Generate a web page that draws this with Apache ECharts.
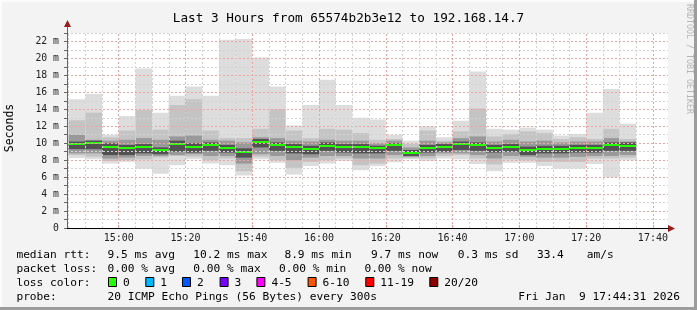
<!DOCTYPE html>
<html>
<head>
<meta charset="utf-8">
<script src="https://cdn.jsdelivr.net/npm/echarts@6/dist/echarts.min.js"></script>
<style>
html,body{margin:0;padding:0;background:#f3f3f3;}
#chart{width:697px;height:310px;}
</style>
</head>
<body>
<div id="chart"></div>
<script>
// ---- data (5-minute buckets, label = bucket end time) ----
const endTimes = ["14:50","14:55","15:00","15:05","15:10","15:15","15:20","15:25","15:30","15:35",
  "15:40","15:45","15:50","15:55","16:00","16:05","16:10","16:15","16:20","16:25",
  "16:30","16:35","16:40","16:45","16:50","16:55","17:00","17:05","17:10","17:15",
  "17:20","17:25","17:30","17:35"];
// values in ms
const medianRtt = [9.9,10.0,9.6,9.4,9.5,9.15,9.95,9.6,9.75,9.4,9.0,10.2,9.8,9.5,9.35,9.7,9.5,9.5,9.4,9.75,8.9,9.45,9.6,9.85,9.75,9.45,9.6,9.15,9.3,9.3,9.45,9.45,9.75,9.7];
const pingMin   = [8.26,8.1,7.6,7.8,7.0,6.4,7.4,8.1,7.6,7.4,6.2,8.1,7.7,6.3,7.3,7.6,7.9,6.8,7.3,7.75,8.1,7.9,8.2,8.1,7.55,6.7,7.7,7.7,7.3,7.0,7.0,7.55,6.0,8.0];
const band2Lo   = [8.6,8.4,7.9,8.0,8.1,8.3,8.5,8.4,8.0,8.2,6.7,8.4,8.0,7.1,7.8,8.0,8.2,7.4,7.6,8.2,8.25,8.2,8.5,8.6,8.2,7.5,8.1,8.0,7.8,7.8,7.8,8.2,8.2,8.3];
const band3Lo   = [8.8,8.8,8.2,8.3,8.5,8.5,8.6,8.7,8.5,8.5,7.6,8.7,8.5,8.0,8.3,8.5,8.5,8.2,8.2,8.6,8.4,8.5,8.8,8.8,8.6,8.2,8.5,8.4,8.3,8.3,8.4,8.5,8.5,8.6];
const coreLo    = [9.3,9.3,8.6,8.6,8.8,8.7,9.0,8.9,9.1,8.9,8.3,9.5,9.1,8.8,8.7,9.1,8.9,8.8,8.8,9.1,8.5,8.9,9.0,9.2,9.1,8.9,9.0,8.6,8.8,8.8,8.9,8.9,9.1,9.1];
const coreHi    = [10.2,10.3,10.0,9.8,9.9,9.5,10.3,10.0,10.1,9.8,9.4,10.5,10.1,9.9,9.7,10.1,9.9,9.9,9.7,10.0,9.2,9.8,9.9,10.2,10.1,9.8,9.9,9.6,9.7,9.7,9.8,9.8,10.1,10.1];
const band3Hi   = [11.0,10.4,10.3,10.4,10.6,10.4,10.8,10.9,10.4,10.3,10.1,10.7,10.6,10.3,10.2,10.4,10.3,10.3,10.0,10.3,9.5,10.3,10.1,10.6,10.8,10.2,10.4,10.2,10.3,10.1,10.2,10.2,10.6,10.2];
const band2Hi   = [12.7,13.6,10.7,11.5,13.9,11.6,14.5,15.2,11.5,10.6,10.6,11.7,14.0,11.5,10.6,11.7,11.6,11.2,10.4,10.5,9.9,11.5,10.3,11.4,14.1,10.8,11.1,11.4,11.2,10.5,10.7,10.5,11.7,10.5];
const pingMax   = [15.2,15.8,11.0,13.2,18.8,13.6,15.6,16.7,15.6,22.2,22.3,20.1,16.7,12.1,14.5,17.5,14.5,13.0,12.8,11.0,10.3,12.0,10.7,12.65,18.45,11.7,11.6,11.85,11.6,10.9,11.1,13.6,16.4,12.3];

const xTickLabels = ["15:00","15:20","15:40","16:00","16:20","16:40","17:00","17:20","17:40"];
const yTickValues = [0,2,4,6,8,10,12,14,16,18,20,22];
const lossColors = [["0","#26ff00"],["1","#00b8ff"],["2","#0059ff"],["3","#7a00ff"],["4-5","#ff00ff"],["6-10","#ff5500"],["11-19","#ff0000"],["20/20","#8b0000"]];

// ---- build ----
const FONT = "'DejaVu Sans Mono', monospace";
// x values: minutes since midnight
function tm(hm){const p=hm.split(':').map(Number);return p[0]*60+p[1];}
const axisMin = 14*60 + 44 + 31/60;
const axisMax = 17*60 + 44 + 31/60;
const STEP = 5;

const data = endTimes.map((e,i)=>{
  const end = tm(e);
  const start = Math.max(end-STEP, axisMin);
  return [start,end,pingMin[i],band2Lo[i],band3Lo[i],coreLo[i],medianRtt[i],coreHi[i],band3Hi[i],band2Hi[i],pingMax[i]];
});
const majorX = xTickLabels.map(tm);
// vertical grid every 5 minutes
const minorX = [];
for (let t = tm("14:45"); t < axisMax; t += STEP) { if (majorX.indexOf(t) < 0) minorX.push(t); }

const gridLines = [];
minorX.forEach(t=>gridLines.push({xAxis:t, lineStyle:{color:'#d2d2d2', type:[2,2], width:1}}));
majorX.forEach(t=>gridLines.push({xAxis:t, lineStyle:{color:'#eba5a5', type:[2,2], width:1}}));

const bandColors = ['#dddddd','#c4c4c4','#999999','#525252'];

function renderItem(params, api){
  const s = api.value(0), e = api.value(1);
  const children = [];
  const pairs = [[2,10],[3,9],[4,8],[5,7]];
  pairs.forEach((pr,k)=>{
    const a = api.coord([s, api.value(pr[1])]);
    const b = api.coord([e, api.value(pr[0])]);
    children.push({type:'rect', shape:{x:a[0], y:a[1], width:b[0]-a[0], height:b[1]-a[1]}, style:{fill:bandColors[k]}});
  });
  const m1 = api.coord([s, api.value(6)]);
  const m2 = api.coord([e, api.value(6)]);
  children.push({type:'rect', shape:{x:m1[0], y:Math.round(m1[1])-1, width:m2[0]-m1[0], height:2}, style:{fill:'#26ff00'}});
  return {type:'group', children};
}

function pad(n){return (n<10?'0':'')+n;}

const graphics = [];
function txt(x,y,t,opt){
  opt = opt||{};
  graphics.push({type:'text', x:x, y:y, rotation:opt.rotation||0, silent:true,
    style:{text:t, font:(opt.size||11.2)+'px '+FONT, fill:opt.color||'#000',
      textAlign:opt.align||'left', textVerticalAlign:'middle'}});
}
// borders
graphics.push({type:'rect', shape:{x:0,y:0,width:697,height:2}, style:{fill:'#fcfcfc'}, silent:true});
graphics.push({type:'rect', shape:{x:0,y:0,width:2,height:310}, style:{fill:'#fcfcfc'}, silent:true});
graphics.push({type:'rect', shape:{x:694,y:0,width:3,height:310}, style:{fill:'#9c9c9c'}, silent:true});
graphics.push({type:'rect', shape:{x:0,y:307,width:697,height:3}, style:{fill:'#9c9c9c'}, silent:true});
// title
txt(348.5, 19, 'Last 3 Hours from 65574b2b3e12 to 192.168.14.7', {size:12.7, align:'center'});
// y name
txt(10, 128, 'Seconds', {size:11.5, align:'center', rotation:Math.PI/2});
// watermark
txt(689, 4, 'RRDTOOL / TOBI OETIKER', {size:8.3, color:'#b4b4b4', rotation:-Math.PI/2});
// axis extension + arrows
graphics.push({type:'line', shape:{x1:67.5,y1:33,x2:67.5,y2:25}, style:{stroke:'#666',lineWidth:1}, silent:true});
graphics.push({type:'polygon', shape:{points:[[64,27],[71,27],[67.5,20]]}, style:{fill:'#9b1c1c'}, silent:true});
graphics.push({type:'polygon', shape:{points:[[668,225],[668,232],[675,228.5]]}, style:{fill:'#9b1c1c'}, silent:true});
// legend rows
txt(16.4, 255, 'median rtt:');
txt(107.6, 255, '9.5 ms avg');
txt(193.3, 255, '10.2 ms max');
txt(284.4, 255, '8.9 ms min');
txt(371, 255, '9.7 ms now');
txt(457.8, 255, '0.3 ms sd');
txt(536.9, 255, '33.4');
txt(586.7, 255, 'am/s');
txt(16.4, 269, 'packet loss:');
txt(107.6, 269, '0.00 % avg');
txt(193.3, 269, '0.00 % max');
txt(279, 269, '0.00 % min');
txt(364.4, 269, '0.00 % now');
txt(16.4, 283, 'loss color:');
const boxX = [108,145.3,182,219.6,256.4,307.6,365.3,429.3];
lossColors.forEach((lc,i)=>{
  graphics.push({type:'rect', shape:{x:boxX[i]+0.5,y:277.5,width:8,height:9}, style:{fill:lc[1], stroke:'#000', lineWidth:1}, silent:true});
  txt(boxX[i]+15, 283, lc[0]);
});
txt(16.4, 297, 'probe:');
txt(107.6, 297, '20 ICMP Echo Pings (56 Bytes) every 300s');
txt(680, 297, 'Fri Jan  9 17:44:31 2026', {align:'right'});

const chart = echarts.init(document.getElementById('chart'), null, {renderer:'canvas'});
chart.setOption({
  backgroundColor:'#f3f3f3',
  animation:false,
  grid:{left:67, right:29, top:33, bottom:82, show:true, backgroundColor:'#ffffff', borderWidth:0},
  xAxis:{
    type:'value', min:axisMin, max:axisMax, z:4,
    axisLine:{show:true, onZero:false, lineStyle:{color:'#000', width:1}},
    axisTick:{show:true, inside:true, length:3, customValues:majorX, lineStyle:{color:'#e08080'}},
    minorTick:{show:false},
    splitLine:{show:false},
    axisLabel:{
      show:true, margin:5, color:'#222', fontFamily:FONT, fontSize:10,
      customValues:majorX,
      formatter:function(v){const m=Math.round(v);return pad(Math.floor(m/60))+':'+pad(m%60);}
    }
  },
  yAxis:{
    type:'value', min:0, max:23, interval:1, z:4,
    axisLine:{show:true, lineStyle:{color:'#666', width:1}},
    axisTick:{show:true, length:3, lineStyle:{color:'#666'}},
    splitLine:{show:true, lineStyle:{color:['#eba5a5','#d2d2d2'], type:[2,2], width:1}},
    axisLabel:{
      margin:8, color:'#222', fontFamily:FONT, fontSize:9.8,
      formatter:function(v){ if(yTickValues.indexOf(v)<0) return ''; return v===0?'0':v+' m'; }
    }
  },
  series:[{
    type:'custom', renderItem:renderItem, clip:true,
    encode:{x:[0,1], y:[2,3,4,5,6,7,8,9,10]},
    data:data, z:2
  },{
    type:'line', data:[], z:3, silent:true,
    markLine:{silent:true, symbol:['none','none'], label:{show:false}, animation:false, data:gridLines}
  }],
  graphic:graphics
});
</script>
</body>
</html>
